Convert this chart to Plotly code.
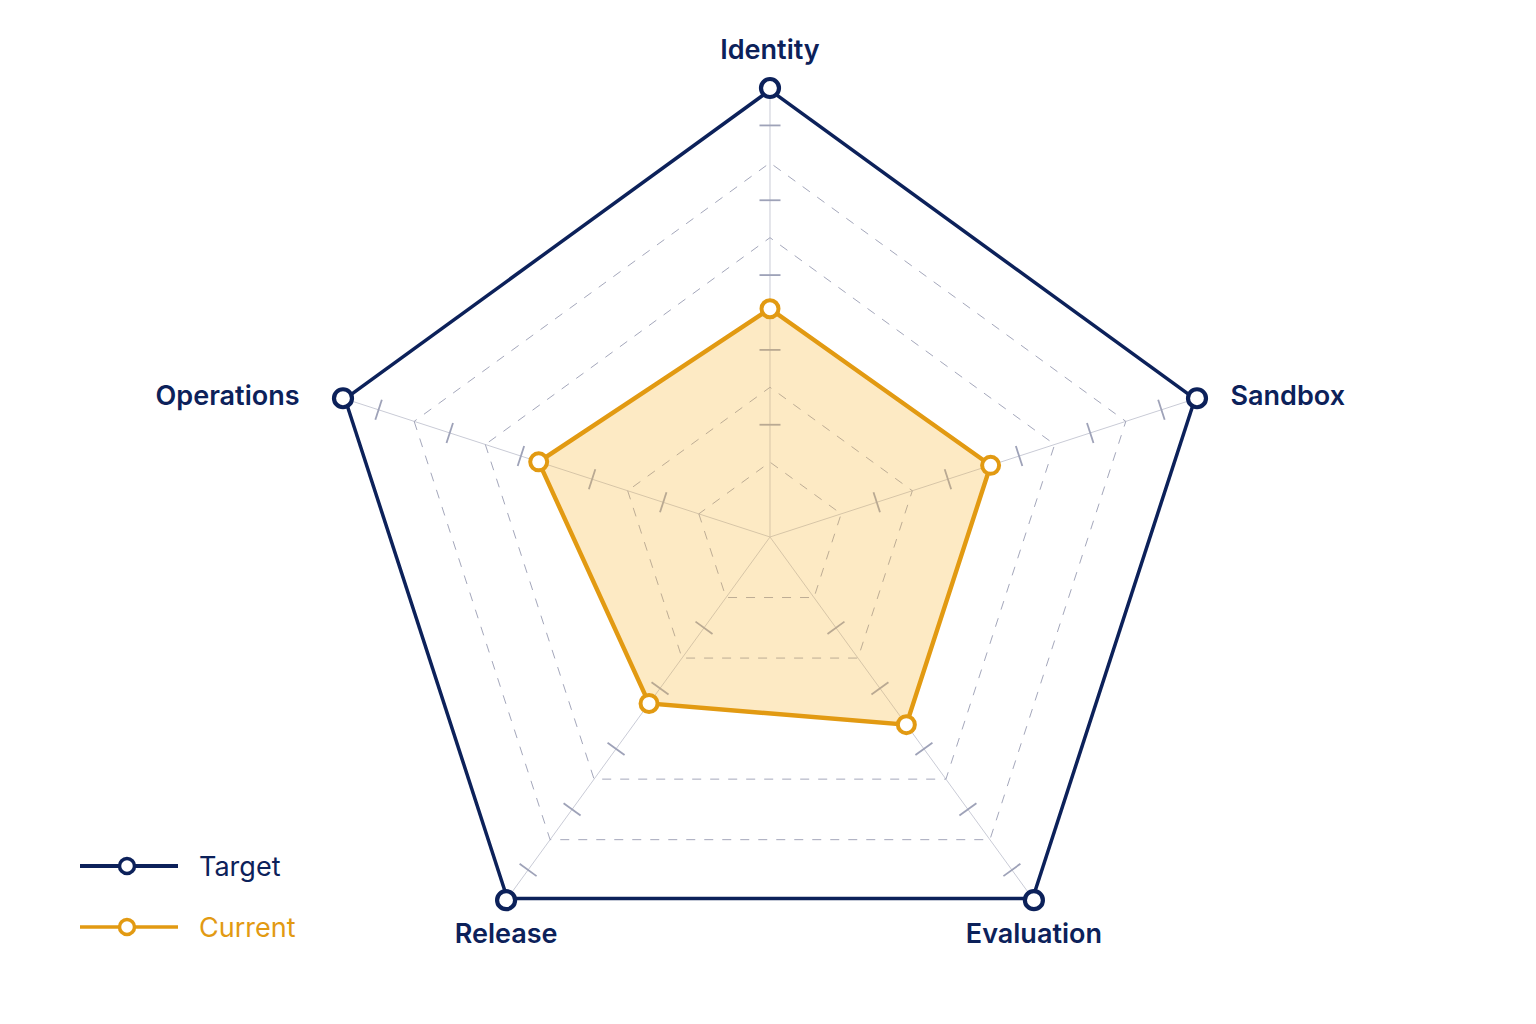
import plotly.graph_objects as go

categories = ["Identity", "Sandbox", "Evaluation", "Release", "Operations"]
label_positions = ["top center", "middle right", "bottom center", "bottom center", "middle left"]
label_offsets = [34, 52, 34, 34, 68]
target_values = [6, 6, 6, 6, 6]
current_values = [3.05, 3.1, 3.1, 2.75, 3.25]
ring_values = [1, 2, 4, 5]
tick_mark_values = [1.5, 2.5, 3.5, 4.5, 5.5]
spoke_angles = [0, 72, 144, 216, 288]
radial_max = 6
series_names = ["Target", "Current"]

NAVY = "#0c215a"
ORANGE = "#e29a12"
FILL = "rgba(248,186,60,0.30)"
GRID = "#a4a7bb"
SPOKE = "#c9cbd6"
TICKC = "#9ea2b8"
series_colors = [NAVY, ORANGE]
FONT = "Inter, 'Open Sans', sans-serif"

fig = go.Figure()

# small tick marks on each spoke
tk_theta, tk_r, tk_ang = [], [], []
for c, a in zip(categories, spoke_angles):
    for v in tick_mark_values:
        tk_theta.append(c)
        tk_r.append(v)
        tk_ang.append(a)
fig.add_trace(go.Scatterpolar(
    r=tk_r, theta=tk_theta, mode="markers",
    marker=dict(symbol="line-ew-open", size=15, angle=tk_ang, color=TICKC,
                line=dict(color=TICKC, width=1.8)),
    showlegend=False, hoverinfo="skip"))

fig.add_trace(go.Scatterpolar(
    r=current_values + current_values[:1], theta=categories + categories[:1],
    mode="lines", fill="toself", fillcolor=FILL,
    line=dict(color=ORANGE, width=4.4),
    cliponaxis=False, showlegend=False, hoverinfo="skip"))

fig.add_trace(go.Scatterpolar(
    r=target_values + target_values[:1], theta=categories + categories[:1],
    mode="lines", line=dict(color=NAVY, width=7),
    cliponaxis=False, showlegend=False, hoverinfo="skip"))

fig.add_trace(go.Scatterpolar(
    r=current_values, theta=categories, mode="markers", name="Current",
    marker=dict(size=17, color="white", line=dict(color=ORANGE, width=4)),
    cliponaxis=False, showlegend=False))

fig.add_trace(go.Scatterpolar(
    r=target_values, theta=categories, mode="markers", name="Target",
    marker=dict(size=18, color="white", line=dict(color=NAVY, width=4.2)),
    cliponaxis=False, showlegend=False))

# category labels placed just outside the outer vertices
fig.add_trace(go.Scatterpolar(
    r=[radial_max] * len(categories), theta=categories, mode="markers+text",
    text=categories, textposition=label_positions,
    textfont=dict(size=27, color=NAVY, family=FONT, weight=600),
    marker=dict(size=label_offsets, opacity=0), cliponaxis=False,
    showlegend=False, hoverinfo="skip"))

fig.update_layout(
    width=1536, height=1024,
    margin=dict(l=0, r=0, t=0, b=0),
    paper_bgcolor="white",
    font=dict(family=FONT, color=NAVY),
    showlegend=False,
    polar=dict(
        domain=dict(x=[0.2090, 0.7936], y=[0.0371, 0.9141]),
        bgcolor="white",
        gridshape="linear",
        radialaxis=dict(range=[0, radial_max], tickvals=ring_values,
                        showticklabels=False, ticks="", showline=False,
                        gridcolor=GRID, griddash="dash", gridwidth=1,
                        layer="below traces"),
        angularaxis=dict(categoryarray=categories, rotation=90,
                         direction="clockwise", showline=False, ticks="",
                         showticklabels=False,
                         gridcolor=SPOKE, gridwidth=1, layer="below traces"),
    ),
)

# custom legend (long line sample with a hollow marker in the middle)
shapes, annotations = [], []
for i, (nm, col) in enumerate(zip(series_names, series_colors)):
    yc = 1 - (866 + 61 * i) / 1024
    shapes.append(dict(type="line", xref="paper", yref="paper",
                       x0=80 / 1536, x1=178 / 1536, y0=yc, y1=yc,
                       line=dict(color=col, width=4 if i == 0 else 3.5)))
    shapes.append(dict(type="circle", xref="paper", yref="paper",
                       xsizemode="pixel", ysizemode="pixel",
                       xanchor=127 / 1536, yanchor=yc,
                       x0=-7.5, x1=7.5, y0=-7.5, y1=7.5,
                       fillcolor="white", line=dict(color=col, width=3.5)))
    annotations.append(dict(xref="paper", yref="paper", x=197 / 1536, y=yc,
                            xanchor="left", yanchor="middle", showarrow=False,
                            text=nm, font=dict(size=27, color=col, family=FONT)))
fig.update_layout(shapes=shapes, annotations=annotations)

fig.write_html("out.html")
